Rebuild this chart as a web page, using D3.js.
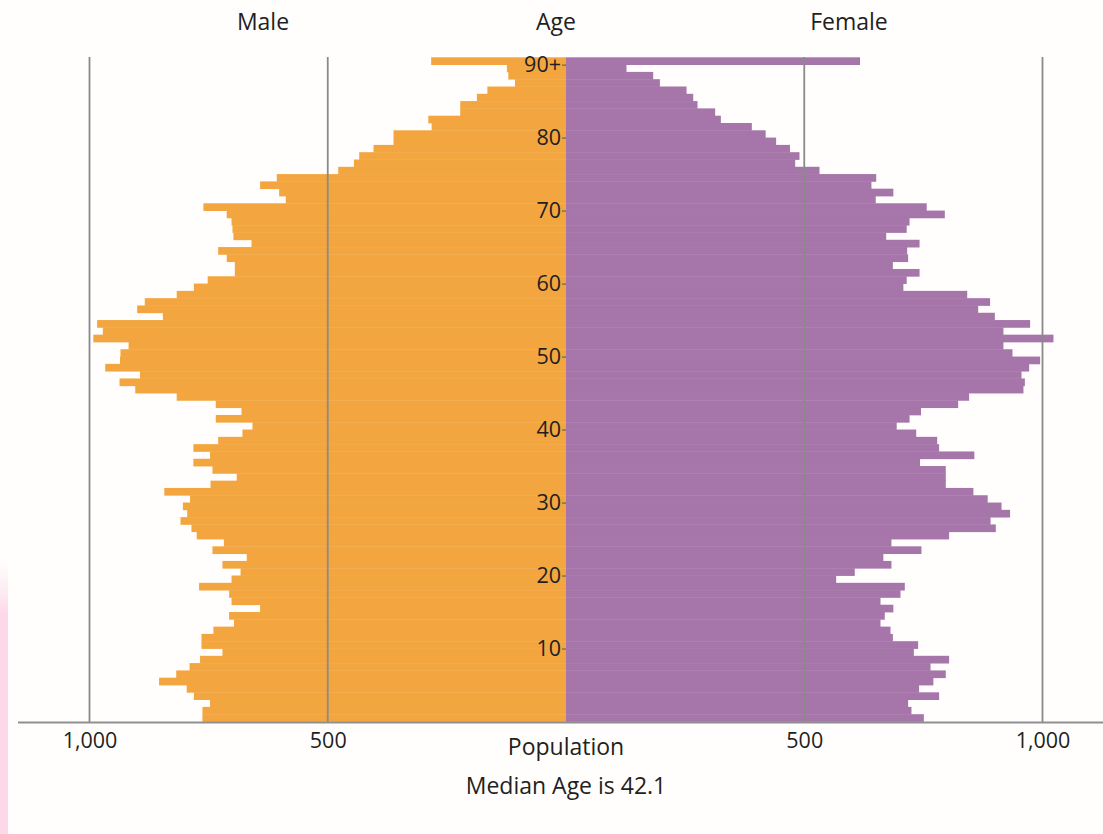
<!DOCTYPE html>
<html>
<head>
<meta charset="utf-8">
<script src="https://cdn.jsdelivr.net/npm/d3@7"></script>
<style>
  html, body { margin: 0; padding: 0; background: #fffefd; }
  svg { display: block; font-family: "Open Sans", "Noto Sans", sans-serif; }
</style>
</head>
<body>
<svg id="chart" width="1103" height="834"></svg>
<script>
// ---- data ----
const ages = [0,1,2,3,4,5,6,7,8,9,10,11,12,13,14,15,16,17,18,19,20,21,22,23,24,25,26,27,28,29,30,
  31,32,33,34,35,36,37,38,39,40,41,42,43,44,45,46,47,48,49,50,51,52,53,54,55,56,57,58,59,60,
  61,62,63,64,65,66,67,68,69,70,71,72,73,74,75,76,77,78,79,80,81,82,83,84,85,86,87,88,89,90];

const male = [763,763,747,781,796,854,818,790,768,721,
  765,765,740,697,707,642,702,707,770,702,
  683,721,670,742,718,775,786,809,795,804,
  789,843,746,691,742,782,747,782,730,679,
  658,735,681,735,817,904,937,894,967,936,
  935,918,992,972,984,846,900,884,817,781,
  752,695,695,712,730,660,698,700,702,712,
  761,588,602,642,607,478,445,434,404,362,
  362,282,289,222,222,187,165,107,121,124,283];

const female = [751,725,718,783,741,771,797,765,804,730,
  739,686,681,660,669,687,660,702,711,567,
  606,683,666,746,683,804,902,891,932,914,
  885,855,797,797,797,743,857,783,779,735,
  694,721,745,823,846,960,963,956,972,995,
  937,918,1023,918,974,900,865,890,842,708,
  715,742,686,718,716,742,672,715,721,795,
  757,650,687,641,651,532,481,490,470,441,
  419,390,325,313,276,267,253,197,183,127,617];

const ageTicks = [10,20,30,40,50,60,70,80,90];
const ageTickLabels = ["10","20","30","40","50","60","70","80","90+"];
const popTicks = [500, 1000];
const popTickLabels = ["500", "1,000"];
const titles = { male: "Male", age: "Age", female: "Female" };
const xTitle = "Population";
const subtitle = "Median Age is 42.1";

// ---- layout ----
const W = 1103, H = 834;
const cx = 566;
const svg = d3.select("#chart");

const xMale = d3.scaleLinear().domain([0, 1000]).range([cx, 89.5]);
const xFemale = d3.scaleLinear().domain([0, 1000]).range([cx, 1042.5]);
const yAge = d3.scaleLinear().domain([0, 91]).range([721.5, 57.3]);

// faint pink strip at left edge (as in original)
const defs = svg.append("defs");
const grad = defs.append("linearGradient").attr("id", "pinkfade")
  .attr("x1", 0).attr("y1", 0).attr("x2", 0).attr("y2", 1);
grad.append("stop").attr("offset", "0%").attr("stop-color", "#fde3ee").attr("stop-opacity", 0);
grad.append("stop").attr("offset", "20%").attr("stop-color", "#fcd8e8").attr("stop-opacity", 1);
grad.append("stop").attr("offset", "100%").attr("stop-color", "#fcd8e8").attr("stop-opacity", 1);
svg.append("rect").attr("x", 0).attr("y", 560).attr("width", 8).attr("height", H - 560)
  .attr("fill", "url(#pinkfade)");

// bars
const orange = "#f3a63f";
const purple = "#a675a9";

svg.append("g").selectAll("rect")
  .data(ages)
  .join("rect")
  .attr("x", a => xMale(male[a]))
  .attr("y", a => yAge(a + 1))
  .attr("width", a => cx - xMale(male[a]))
  .attr("height", a => yAge(a) - yAge(a + 1) + 0.4)
  .attr("fill", orange);

svg.append("g").selectAll("rect")
  .data(ages)
  .join("rect")
  .attr("x", cx)
  .attr("y", a => yAge(a + 1))
  .attr("width", a => xFemale(female[a]) - cx)
  .attr("height", a => yAge(a) - yAge(a + 1) + 0.4)
  .attr("fill", purple);

// grid lines (on top of bars)
const gridG = svg.append("g").attr("stroke", "#8a8a8a").attr("stroke-width", 1.8);
popTicks.forEach(v => {
  [xMale(v), xFemale(v)].forEach(x => {
    gridG.append("line").attr("x1", x).attr("x2", x)
      .attr("y1", 57).attr("y2", 722);
  });
});

// bottom axis line
svg.append("line").attr("x1", 18).attr("x2", W).attr("y1", 722.5).attr("y2", 722.5)
  .attr("stroke", "#8f8f8f").attr("stroke-width", 2);

// bottom tick labels via d3 axes
const fmtPop = d => popTickLabels[popTicks.indexOf(d)];
const axM = svg.append("g").attr("transform", "translate(0,722)")
  .call(d3.axisBottom(xMale).tickValues(popTicks).tickFormat(fmtPop).tickSize(0).tickPadding(11));
const axF = svg.append("g").attr("transform", "translate(0,722)")
  .call(d3.axisBottom(xFemale).tickValues(popTicks).tickFormat(fmtPop).tickSize(0).tickPadding(11));
[axM, axF].forEach(g => {
  g.select(".domain").remove();
  g.selectAll("text").attr("font-size", 21.5).attr("fill", "#231f20")
    .attr("font-family", "'Open Sans', sans-serif");
});

// age axis (center)
const axA = svg.append("g").attr("transform", `translate(${cx},0)`)
  .call(d3.axisLeft(yAge).tickValues(ageTicks)
    .tickFormat(d => ageTickLabels[ageTicks.indexOf(d)])
    .tickSize(4).tickPadding(1));
axA.select(".domain").remove();
axA.selectAll("line").attr("stroke", "#555");
axA.selectAll("text").attr("font-size", 21.5).attr("fill", "#231f20")
  .attr("font-family", "'Open Sans', sans-serif");

// titles
const txt = (x, y, s, size) => svg.append("text").attr("x", x).attr("y", y)
  .attr("text-anchor", "middle").attr("font-size", size).attr("fill", "#231f20").text(s);
txt(263, 30, titles.male, 23);
txt(556, 30, titles.age, 23);
txt(849, 30, titles.female, 23);
txt(566, 755, xTitle, 23);
txt(566, 794, subtitle, 23);
</script>
</body>
</html>
